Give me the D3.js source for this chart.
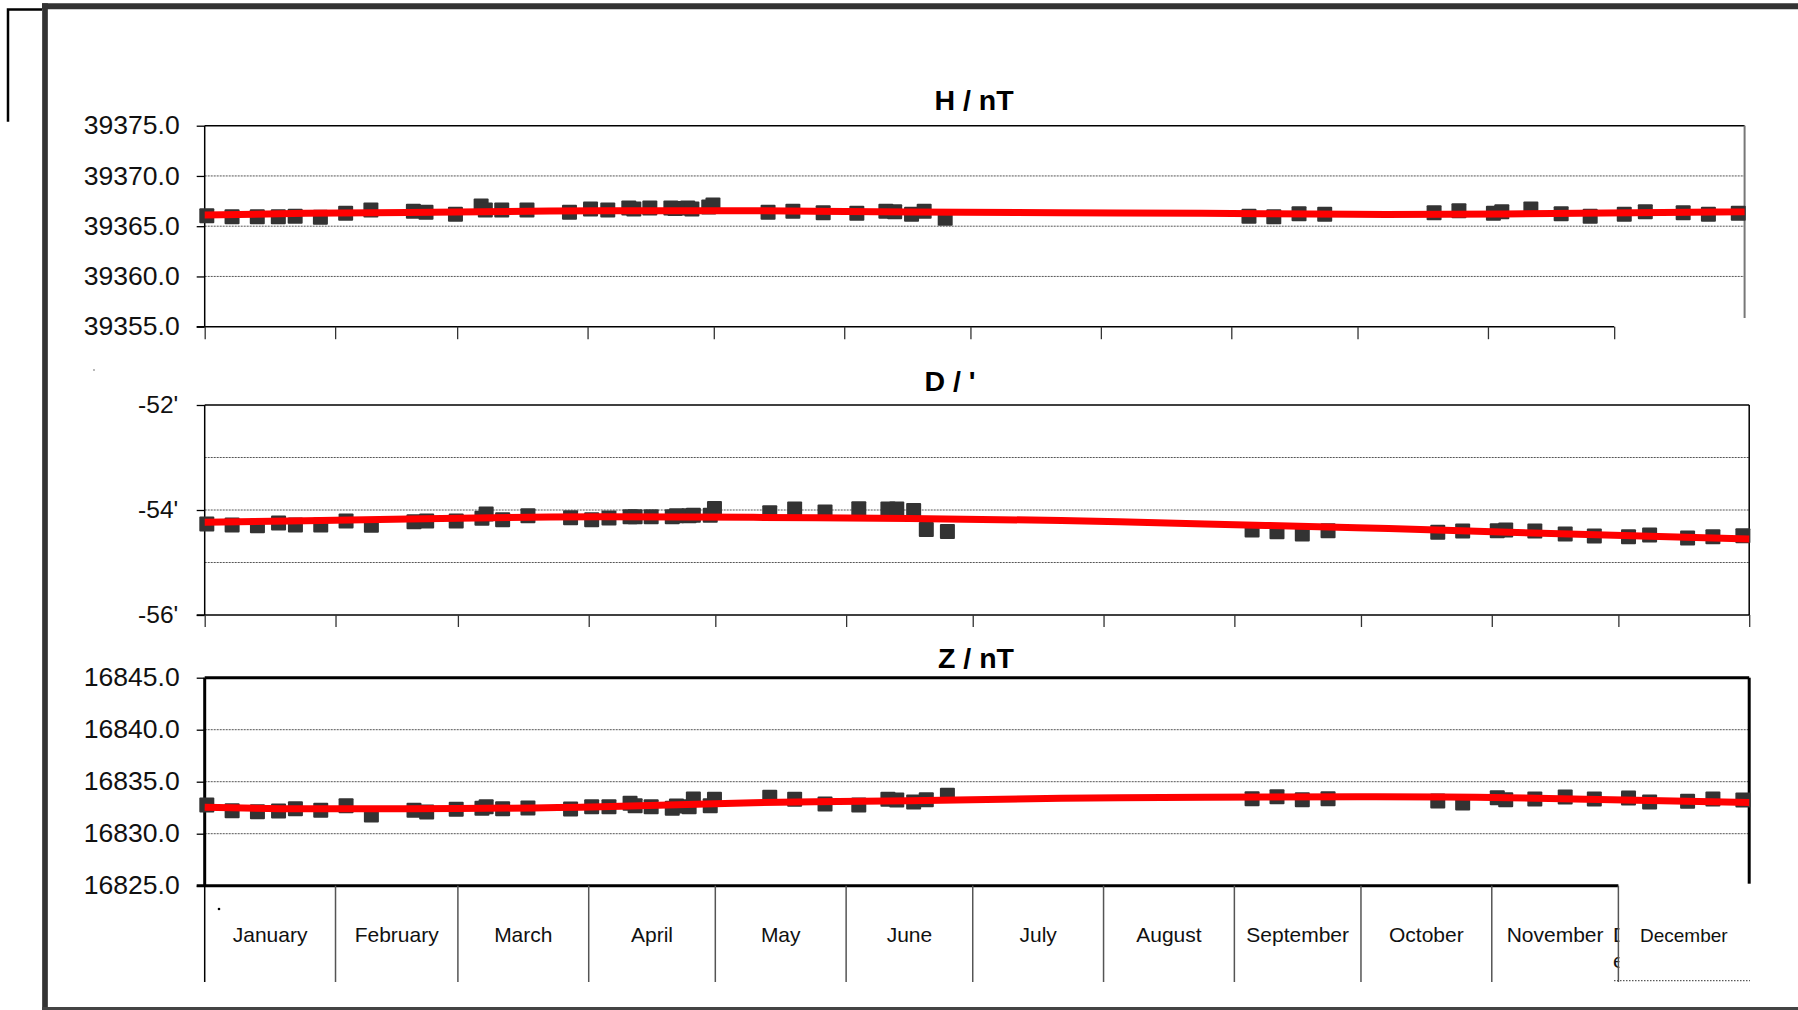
<!DOCTYPE html>
<html><head><meta charset="utf-8">
<script src="https://cdn.jsdelivr.net/npm/d3@7"></script>
<style>body{margin:0;background:#fff}svg{display:block}</style>
</head><body>
<svg id="c" width="1798" height="1010"></svg>
<script>
// ---- data ----
const monthNames = ["January","February","March","April","May","June","July","August","September","October","November","December"];
const monthStarts = [0,31,60,91,121,152,182,213,244,274,305,335,366];

const obsDays = [0.5,6.5,12.5,17.5,21.5,27.5,33.5,39.5,49.6,52.6,59.6,65.7,66.7,70.6,76.6,86.7,91.7,
  95.8,100.8,102,105.8,110.8,111.8,114.8,115.8,119.8,120.8,133.9,139.8,147,155,161.9,164,168,171,176,
  248.2,254.1,260.1,266.2,292.2,298.1,306.3,308.3,315.2,322.4,329.3,337.4,342.4,351.4,357.4,364.5];

const valuesH = [39366.04,39365.95,39365.95,39365.95,39366.0,39365.9,39366.3,39366.6,39366.5,39366.4,39366.2,39367.0,39366.6,39366.6,39366.6,39366.4,39366.7,
  39366.6,39366.8,39366.7,39366.8,39366.8,39366.75,39366.8,39366.7,39366.9,39367.1,39366.4,39366.5,39366.35,39366.3,39366.5,39366.45,39366.2,39366.5,39365.8,
  39366.0,39365.95,39366.24,39366.18,39366.34,39366.54,39366.28,39366.44,39366.7,39366.24,39366.0,39366.18,39366.44,39366.34,39366.18,39366.28];

const valuesD = [-54.267,-54.286,-54.299,-54.248,-54.286,-54.286,-54.21,-54.29,-54.223,-54.21,-54.21,-54.158,-54.076,-54.185,-54.109,-54.147,-54.185,
  -54.15,-54.13,-54.13,-54.13,-54.13,-54.11,-54.11,-54.10,-54.10,-53.97,-54.05,-53.98,-54.04,-53.975,-53.98,-53.98,-54.01,-54.37,-54.41,
  -54.381,-54.413,-54.457,-54.394,-54.425,-54.4,-54.394,-54.381,-54.4,-54.457,-54.495,-54.509,-54.476,-54.533,-54.509,-54.49];

const valuesZ = [16832.76,16832.21,16832.12,16832.18,16832.40,16832.25,16832.69,16831.80,16832.25,16832.09,16832.35,16832.44,16832.60,16832.40,16832.47,16832.38,16832.60,
  16832.6,16832.92,16832.69,16832.6,16832.44,16832.66,16832.6,16833.34,16832.69,16833.31,16833.5,16833.31,16832.86,16832.76,16833.31,16833.24,16833.05,16833.27,16833.69,
  16833.37,16833.56,16833.27,16833.37,16833.14,16832.95,16833.46,16833.27,16833.34,16833.53,16833.34,16833.43,16833.05,16833.11,16833.34,16833.24];

const trendDays = [0,24,60,94,130,167,203,237,273,309,366];
const trendH = [39366.11,39366.28,39366.41,39366.54,39366.54,39366.41,39366.34,39366.28,39366.18,39366.21,39366.43];
const trendD = [-54.235,-54.204,-54.158,-54.128,-54.14,-54.16,-54.2,-54.267,-54.337,-54.425,-54.552];
const trendZ = [16832.55,16832.40,16832.42,16832.60,16832.98,16833.17,16833.40,16833.50,16833.55,16833.46,16833.00];

const ticksH = [39355,39360,39365,39370,39375];
const ticksD = [-56,-54,-52];
const gridD = [-55,-54,-53];
const ticksZ = [16825,16830,16835,16840,16845];

// ---- drawing ----
const svg = d3.select("#c");
const FONT = "'Liberation Sans', Arial, Helvetica, sans-serif";

// outer frame
svg.append("line").attr("x1",42).attr("x2",1798).attr("y1",6.3).attr("y2",6.3).attr("stroke","#333").attr("stroke-width",6);
svg.append("line").attr("x1",45).attr("x2",45).attr("y1",3.3).attr("y2",1010).attr("stroke","#333").attr("stroke-width",5.7);
svg.append("line").attr("x1",42).attr("x2",1798).attr("y1",1008.6).attr("y2",1008.6).attr("stroke","#444").attr("stroke-width",3);
svg.append("path").attr("d","M42,9.5H8V121.7").attr("fill","none").attr("stroke","#000").attr("stroke-width",2.5);
svg.append("circle").attr("cx",94).attr("cy",370).attr("r",0.9).attr("fill","#999");
svg.append("circle").attr("cx",219).attr("cy",909).attr("r",1.3).attr("fill","#000");

function panel(cfg){
  const x = d3.scaleLinear().domain([0,366]).range([cfg.left, cfg.right]);
  const y = d3.scaleLinear().domain(cfg.domain).range([cfg.bottom, cfg.top]);
  const g = svg.append("g");
  // gridlines
  g.selectAll("line.grid").data(cfg.grid).join("line").attr("class","grid")
    .attr("x1",cfg.left).attr("x2",cfg.right).attr("y1",d=>y(d)).attr("y2",d=>y(d))
    .attr("stroke","#555").attr("stroke-width",1).attr("stroke-dasharray","2,1");
  // top border
  g.append("line").attr("x1",cfg.left).attr("x2",cfg.right).attr("y1",cfg.top).attr("y2",cfg.top)
    .attr("stroke","#000").attr("stroke-width",cfg.frameW);
  // right border
  g.append("line").attr("x1",cfg.right).attr("x2",cfg.right).attr("y1",cfg.top).attr("y2",cfg.rightEndY)
    .attr("stroke",cfg.rightColor).attr("stroke-width",cfg.rightW);
  // bottom axis line
  g.append("line").attr("x1",cfg.left-8).attr("x2",x(cfg.axisEndDay)).attr("y1",cfg.bottom).attr("y2",cfg.bottom)
    .attr("stroke","#000").attr("stroke-width",cfg.frameW);
  // left axis
  g.append("line").attr("x1",cfg.left).attr("x2",cfg.left).attr("y1",cfg.top).attr("y2",cfg.bottom)
    .attr("stroke","#000").attr("stroke-width",cfg.leftW);
  // y axis ticks + labels
  const ax = d3.axisLeft(y).tickValues(cfg.ticks).tickSize(8).tickPadding(cfg.pad).tickFormat(cfg.fmt);
  const ga = g.append("g").attr("transform",`translate(${cfg.left},0)`).call(ax);
  ga.select(".domain").remove();
  ga.selectAll(".tick line").attr("stroke","#000").attr("stroke-width",1.3);
  const tt = ga.selectAll(".tick text").attr("font-family",FONT).attr("font-size",cfg.labelSize).attr("fill","#111");
  if (cfg.labelLen) tt.attr("textLength",cfg.labelLen).attr("lengthAdjust","spacingAndGlyphs");
  // bottom month ticks
  if (cfg.tickDown){
    const bx = d3.axisBottom(x).tickValues(monthStarts.filter(d=>d<=cfg.monthTickMax)).tickSize(cfg.tickDown).tickFormat("");
    const gb = g.append("g").attr("transform",`translate(0,${cfg.bottom})`).call(bx);
    gb.select(".domain").remove();
    gb.selectAll(".tick line").attr("stroke","#333").attr("stroke-width",1.3);
  }
  // markers
  g.selectAll("rect.m").data(obsDays.map((d,i)=>[d,cfg.values[i]])).join("rect").attr("class","m")
    .attr("x",d=>x(d[0])-7.5).attr("y",d=>y(d[1])-7.5).attr("width",15).attr("height",15)
    .attr("rx",1).attr("fill","#333");
  // trend
  const line = d3.line().x(d=>x(d[0])).y(d=>y(d[1])).curve(d3.curveNatural);
  g.append("path").datum(trendDays.map((d,i)=>[d,cfg.trend[i]])).attr("d",line)
    .attr("fill","none").attr("stroke","#ff0000").attr("stroke-width",7).attr("stroke-linecap","butt");
  // title
  g.append("text").attr("x",cfg.titleX).attr("y",cfg.titleY).attr("text-anchor","middle")
    .attr("font-family",FONT).attr("font-weight","bold").attr("font-size",28.5).attr("fill","#000").text(cfg.title);
  return {x,y,g};
}

panel({left:204.7,right:1744.6,top:125.7,bottom:326.7,domain:[39355,39375],
  grid:[39360,39365,39370],ticks:ticksH,fmt:d3.format(".1f"),pad:17,labelSize:25.5,labelLen:96,
  values:valuesH,trend:trendH,frameW:1.5,leftW:1.5,rightColor:"#777",rightW:2,rightEndY:318,
  axisEndDay:335,tickDown:12.5,monthTickMax:335,title:"H / nT",titleX:974,titleY:110});

panel({left:204.7,right:1749.2,top:405,bottom:615,domain:[-56,-52],
  grid:gridD,ticks:ticksD,fmt:d=>d+"'",pad:18.5,labelSize:24.5,labelLen:0,
  values:valuesD,trend:trendD,frameW:1.5,leftW:1.5,rightColor:"#000",rightW:1.5,rightEndY:615,
  axisEndDay:366,tickDown:12,monthTickMax:366,title:"D / '",titleX:950,titleY:390.7});

const pz = panel({left:204.7,right:1749.2,top:677.7,bottom:885.7,domain:[16825,16845],
  grid:[16830,16835,16840],ticks:ticksZ,fmt:d3.format(".1f"),pad:17,labelSize:25.5,labelLen:96,
  values:valuesZ,trend:trendZ,frameW:3,leftW:3,rightColor:"#000",rightW:3,rightEndY:883.7,
  axisEndDay:335,tickDown:0,monthTickMax:0,title:"Z / nT",titleX:976,titleY:668.3});

// month category labels under Z panel
const xz = pz.x, gz = pz.g;
gz.selectAll("text.mon").data(monthNames.slice(0,11)).join("text").attr("class","mon")
  .attr("x",(d,i)=>xz((monthStarts[i]+monthStarts[i+1])/2)).attr("y",941.7)
  .attr("text-anchor","middle").attr("font-family",FONT).attr("font-size",21).attr("fill","#111").text(d=>d);
// wrapped original December label remnants
gz.append("text").attr("x",1613).attr("y",941.7).attr("font-family",FONT).attr("font-size",21).attr("fill","#111").text("D");
gz.append("text").attr("x",1613).attr("y",968).attr("font-family",FONT).attr("font-size",21).attr("fill","#111").text("e");
// overlay box for December
gz.append("rect").attr("x",1619.4).attr("y",887.3).attr("width",150).attr("height",93).attr("fill","#fff");
gz.append("line").attr("x1",1614).attr("x2",1750).attr("y1",980.7).attr("y2",980.7)
  .attr("stroke","#333").attr("stroke-width",1).attr("stroke-dasharray","1.5,1.5");
gz.append("text").attr("x",xz((monthStarts[11]+monthStarts[12])/2)).attr("y",941.7)
  .attr("text-anchor","middle").attr("font-family",FONT).attr("font-size",19).attr("fill","#111").text(monthNames[11]);
// separators
gz.selectAll("line.sep").data(monthStarts.slice(0,12)).join("line").attr("class","sep")
  .attr("x1",d=>xz(d)).attr("x2",d=>xz(d)).attr("y1",885.7).attr("y2",982)
  .attr("stroke",(d,i)=>i===0?"#000":"#555").attr("stroke-width",1.5);
</script>
</body></html>
